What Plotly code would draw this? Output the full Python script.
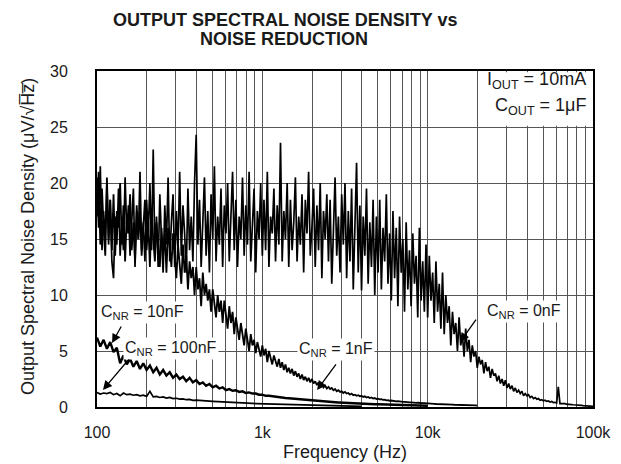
import plotly.graph_objects as go

# Frequency grid: 100 log-spaced mantissas per decade (analyzer sweep points)
MANT = [1.000, 1.023, 1.047, 1.072, 1.096, 1.122, 1.148, 1.175, 1.202, 1.230,
        1.259, 1.288, 1.318, 1.349, 1.380, 1.413, 1.445, 1.479, 1.514, 1.549,
        1.585, 1.622, 1.660, 1.698, 1.738, 1.778, 1.820, 1.862, 1.905, 1.950,
        1.995, 2.042, 2.089, 2.138, 2.188, 2.239, 2.291, 2.344, 2.399, 2.455,
        2.512, 2.570, 2.630, 2.692, 2.754, 2.818, 2.884, 2.951, 3.020, 3.090,
        3.162, 3.236, 3.311, 3.388, 3.467, 3.548, 3.631, 3.715, 3.802, 3.890,
        3.981, 4.074, 4.169, 4.266, 4.365, 4.467, 4.571, 4.677, 4.786, 4.898,
        5.012, 5.129, 5.248, 5.370, 5.495, 5.623, 5.754, 5.888, 6.026, 6.166,
        6.310, 6.457, 6.607, 6.761, 6.918, 7.079, 7.244, 7.413, 7.586, 7.762,
        7.943, 8.128, 8.318, 8.511, 8.710, 8.913, 9.120, 9.333, 9.550, 9.772]
DECADES = [100, 1000, 10000]
FREQ_FINE = [round(m * d, 1) for d in DECADES for m in MANT] + [100000.0]
FREQ_COARSE = FREQ_FINE[::2]

# C_NR = 0nF  (fine grid, 100 Hz .. 100 kHz)
NOISE_0NF = [20.5, 16.0, 21.5, 14.0, 17.5, 15.0, 20.0, 14.5, 18.5, 13.0,
             11.5, 17.0, 14.5, 19.5, 13.5, 16.5, 14.0, 20.5, 15.5, 18.0,
             13.5, 16.0, 19.5, 12.5, 17.5, 15.0, 21.0, 14.0, 16.5, 13.0,
             18.5, 15.5, 20.0, 14.0, 23.0, 13.5, 17.0, 12.5, 19.0, 15.0,
             12.0, 18.0, 14.5, 20.5, 13.0, 16.5, 19.0, 12.5, 17.5, 14.0,
             21.0, 13.5, 18.0, 15.5, 12.0, 19.5, 14.0, 17.0, 13.0, 20.0,
             24.3, 14.5, 18.5, 12.5, 16.0, 20.5, 13.5, 17.5, 12.0, 19.0,
             15.0, 21.5, 13.0, 17.0, 14.5, 19.5, 12.5, 18.0, 15.5, 20.0,
             13.0, 16.5, 21.0, 14.0, 18.5, 12.5, 17.0, 15.0, 20.5, 13.5,
             18.0, 14.5, 21.0, 13.0, 16.5, 19.5, 12.0, 17.5, 15.0, 20.0,
             13.5, 18.5, 14.0, 21.0, 12.5, 17.0, 15.5, 19.5, 13.0, 18.0,
             14.5, 23.6, 13.0, 17.5, 15.0, 20.0, 12.5, 18.5, 14.0, 16.5,
             20.5, 13.0, 17.0, 14.5, 19.0, 12.0, 18.5, 15.5, 21.0, 13.5,
             16.0, 19.5, 12.5, 18.0, 14.0, 20.0, 11.5, 17.5, 15.0, 19.0,
             13.0, 18.5, 11.0, 16.5, 20.5, 13.5, 17.0, 12.0, 19.0, 14.5,
             20.0, 11.5, 17.5, 13.0, 19.5, 10.5, 16.0, 21.8, 12.0, 18.0,
             10.4, 17.0, 13.5, 19.5, 11.0, 16.5, 12.5, 18.5, 10.0, 17.0,
             12.0, 18.5, 10.5, 16.0, 13.0, 19.0, 11.0, 15.5, 9.5, 17.5,
             11.5, 16.0, 9.0, 17.0, 12.0, 15.0, 8.5, 16.5, 10.5, 14.0,
             9.0, 15.5, 11.0, 13.5, 8.0, 16.0, 9.5, 13.0, 8.5, 14.5,
             8.0, 13.5, 9.5, 12.0, 7.5, 13.0, 8.5, 11.0, 7.0, 12.0,
             6.5, 10.0, 7.5, 9.0, 5.5, 8.5, 6.5, 7.5, 5.0, 8.0,
             5.5, 6.5, 4.5, 7.0, 5.0, 6.0, 4.0, 5.5, 4.5, 5.0,
             3.5, 4.5, 3.8, 4.2, 3.0, 4.0, 3.2, 3.6, 2.6, 3.4,
             2.8, 3.0, 2.3, 2.8, 2.1, 2.5, 1.9, 2.4, 1.7, 2.1,
             1.6, 1.9, 1.4, 1.7, 1.3, 1.5, 1.2, 1.4, 1.0, 1.2,
             1.0, 1.1, 0.85, 0.95, 0.75, 0.85, 0.7, 0.75, 0.6, 0.65,
             0.55, 0.6, 0.5, 0.55, 0.45, 0.5, 0.4, 0.42, 0.35, 1.8,
             0.3, 0.32, 0.28, 0.3, 0.25, 0.26, 0.22, 0.22, 0.2, 0.2,
             0.18, 0.17, 0.15, 0.15, 0.13, 0.12, 0.1, 0.1, 0.08, 0.06, 0.05]

# C_NR = 1nF  (fine grid, 100 Hz .. 20 kHz)
NOISE_1NF = [17.0, 21.0, 14.5, 19.5, 16.0, 13.5, 20.5, 15.0, 18.5, 14.0,
             19.0, 13.5, 17.5, 16.0, 20.0, 14.5, 18.0, 13.0, 17.0, 15.5,
             19.0, 14.0, 16.5, 13.0, 18.0, 15.0, 17.5, 13.5, 16.0, 18.5,
             14.0, 16.5, 12.5, 17.5, 15.0, 13.0, 16.5, 14.5, 12.5, 16.0,
             13.5, 15.5, 12.0, 16.0, 14.0, 12.5, 15.5, 13.0, 11.5, 14.5,
             13.0, 11.0, 14.5, 12.0, 13.5, 10.5, 13.0, 11.5, 12.5, 10.0,
             12.5, 10.5, 11.5, 9.0, 12.0, 10.0, 11.0, 9.5, 10.5, 8.5,
             10.5, 9.0, 8.0, 10.0, 8.5, 9.5, 7.5, 9.5, 8.0, 7.0,
             9.0, 7.5, 8.5, 6.5, 8.0, 7.0, 6.0, 7.5, 6.5, 5.5,
             7.0, 6.0, 5.0, 6.5, 5.5, 6.0, 4.8, 5.8, 5.0, 4.5,
             5.5, 4.6, 5.2, 4.0, 5.0, 4.3, 3.8, 4.6, 4.0, 3.6,
             4.3, 3.5, 4.0, 3.3, 3.8, 3.1, 3.5, 3.0, 3.4, 2.8,
             3.2, 2.7, 3.0, 2.5, 2.9, 2.4, 2.7, 2.3, 2.6, 2.2,
             2.5, 2.1, 2.3, 1.95, 2.2, 1.85, 2.05, 1.75, 1.9, 1.65,
             1.8, 1.6, 1.7, 1.5, 1.6, 1.4, 1.5, 1.35, 1.4, 1.25,
             1.35, 1.2, 1.25, 1.1, 1.2, 1.05, 1.1, 1.0, 1.05, 0.95,
             1.0, 0.9, 0.95, 0.85, 0.9, 0.8, 0.85, 0.75, 0.8, 0.72,
             0.75, 0.68, 0.7, 0.64, 0.66, 0.6, 0.62, 0.56, 0.58, 0.53,
             0.55, 0.5, 0.52, 0.48, 0.49, 0.45, 0.46, 0.43, 0.44, 0.41,
             0.42, 0.39, 0.4, 0.37, 0.38, 0.35, 0.36, 0.34, 0.34, 0.32,
             0.32, 0.3, 0.3, 0.29, 0.28, 0.27, 0.27, 0.26, 0.25, 0.25,
             0.24, 0.23, 0.23, 0.22, 0.21, 0.21, 0.2, 0.2, 0.19, 0.19,
             0.18, 0.18, 0.17, 0.17, 0.16, 0.16, 0.15, 0.15, 0.14, 0.14, 0.13]

# C_NR = 10nF  (coarse grid, 100 Hz .. 10 kHz)
NOISE_10NF = [6.2, 5.4, 6.0, 5.2, 5.8, 4.9, 5.3, 3.9, 4.6, 3.8,
              4.3, 3.6, 4.1, 3.4, 3.9, 3.3, 3.7, 3.1, 3.5, 2.9,
              3.3, 2.8, 3.1, 2.6, 2.9, 2.5, 2.7, 2.3, 2.6, 2.2,
              2.4, 2.05, 2.2, 1.9, 2.05, 1.75, 1.9, 1.65, 1.75, 1.5,
              1.6, 1.45, 1.5, 1.35, 1.4, 1.25, 1.3, 1.2, 1.2, 1.1,
              1.1, 1.0, 1.0, 0.95, 0.9, 0.88, 0.85, 0.8, 0.78, 0.75,
              0.72, 0.7, 0.66, 0.63, 0.6, 0.58, 0.55, 0.52, 0.5, 0.48,
              0.46, 0.44, 0.42, 0.4, 0.38, 0.37, 0.35, 0.34, 0.32, 0.31,
              0.3, 0.28, 0.27, 0.26, 0.25, 0.24, 0.23, 0.22, 0.21, 0.2,
              0.19, 0.18, 0.17, 0.16, 0.15, 0.15, 0.14, 0.13, 0.12, 0.12, 0.11]

# C_NR = 100nF  (coarse grid, 100 Hz .. 4 kHz)
NOISE_100NF = [1.3, 1.15, 1.25, 1.2, 1.3, 1.1, 1.2, 1.0, 1.25, 1.1,
               1.15, 1.05, 1.1, 1.0, 1.05, 0.95, 1.4, 0.9, 0.95, 0.85,
               0.9, 0.8, 0.85, 0.75, 0.78, 0.7, 0.72, 0.65, 0.68, 0.6,
               0.62, 0.58, 0.56, 0.53, 0.52, 0.5, 0.48, 0.46, 0.44, 0.42,
               0.4, 0.39, 0.37, 0.36, 0.35, 0.34, 0.33, 0.32, 0.31, 0.3,
               0.29, 0.28, 0.27, 0.26, 0.25, 0.24, 0.23, 0.22, 0.21, 0.2,
               0.19, 0.18, 0.17, 0.16, 0.15, 0.14, 0.13, 0.12, 0.11, 0.1,
               0.1, 0.09, 0.09, 0.08, 0.08, 0.07, 0.07, 0.06, 0.06, 0.05, 0.05]

X_TICKS = [100, 1000, 10000, 100000]
X_TICK_TEXT = ["100", "1k", "10k", "100k"]
Y_TICKS = [0, 5, 10, 15, 20, 25, 30]

FONT = "Liberation Sans, Arial, sans-serif"
INK = "#1a1a1a"

# page body has an 8px default margin: the figure is sized so the plot area
# lands at x 97..593, y 71..407 of the 621x464 window
W, H = 613, 456
ML, MR, MT, MB = 89, 28, 63, 57
PX0, PY0 = 8 + ML, 8 + MT          # plot-area origin in window pixels
PW, PH = W - ML - MR, H - MT - MB


def px(xw):
    return (xw - PX0) / PW


def py(yw):
    return (PY0 + PH - yw) / PH


fig = go.Figure()
series = [(FREQ_COARSE, NOISE_100NF, 1.7), (FREQ_COARSE, NOISE_10NF, 2.4),
          (FREQ_FINE, NOISE_1NF, 1.8), (FREQ_FINE, NOISE_0NF, 1.7)]
for fx, vals, w in series:
    fig.add_trace(go.Scatter(x=fx[:len(vals)], y=vals, mode="lines",
                             line=dict(color="black", width=w), showlegend=False,
                             hoverinfo="skip"))

# vertical grid at every 1..9 x decade
grid_vals = [m * d for d in DECADES for m in range(1, 10)] + [100000]
grid_text = [X_TICK_TEXT[X_TICKS.index(v)] if v in X_TICKS else "" for v in grid_vals]

fig.update_xaxes(type="log", range=[2, 5], tickvals=grid_vals, ticktext=grid_text,
                 showgrid=True, gridcolor="#555555", gridwidth=1, ticks="",
                 showline=True, linecolor="black", linewidth=2, mirror=True,
                 zeroline=False, ticklabelstandoff=10, automargin=False,
                 tickfont=dict(family=FONT, size=16, color=INK))
fig.update_yaxes(range=[0, 30], tickvals=Y_TICKS, showgrid=True, gridcolor="#555555",
                 gridwidth=1, ticks="", showline=True, linecolor="black", linewidth=2,
                 mirror=True, zeroline=False, ticklabelstandoff=24, automargin=False,
                 tickfont=dict(family=FONT, size=16, color=INK))

# white patch behind the condition text
fig.add_shape(type="rect", xref="paper", yref="y", x0=px(481), x1=0.997,
              y0=25.12, y1=29.88, fillcolor="white", line=dict(width=0), layer="above")

cond_font = dict(family=FONT, size=18, color=INK)
fig.add_annotation(xref="paper", yref="paper", x=px(588), y=py(80),
                   xanchor="right", yanchor="middle", showarrow=False, font=cond_font,
                   text="I<sub>OUT</sub> = 10mA")
fig.add_annotation(xref="paper", yref="paper", x=px(588), y=py(107),
                   xanchor="right", yanchor="middle", showarrow=False, font=cond_font,
                   text="C<sub>OUT</sub> = 1\u03bcF")

ann_font = dict(family=FONT, size=16, color=INK)
labels = [("C<sub>NR</sub> = 10nF", 2.278, 8.48),
          ("C<sub>NR</sub> = 100nF", 2.448, 5.18),
          ("C<sub>NR</sub> = 1nF", 3.446, 5.09),
          ("C<sub>NR</sub> = 0nF", 4.583, 8.57)]
for txt, lx, ly in labels:
    fig.add_annotation(x=lx, y=ly, xref="x", yref="y", text=txt, showarrow=False,
                       font=ann_font, bgcolor="white", borderpad=1)

arrows = [(2.091, 5.71, 10, -18), (2.036, 1.52, 27, -32),
          (3.331, 1.52, 20, -27), (4.196, 5.8, 17, -24)]
for ax_, ay_, dx, dy in arrows:
    fig.add_annotation(x=ax_, y=ay_, xref="x", yref="y", text="", showarrow=True,
                       ax=dx, ay=dy, arrowhead=2, arrowsize=1.4, arrowwidth=1.3,
                       arrowcolor="black")

title_font = dict(family=FONT, size=18, color=INK)
fig.add_annotation(xref="paper", yref="paper", x=px(285), y=py(20),
                   xanchor="center", yanchor="middle", showarrow=False,
                   text="<b>OUTPUT SPECTRAL NOISE DENSITY vs</b>", font=title_font)
fig.add_annotation(xref="paper", yref="paper", x=px(284), y=py(39),
                   xanchor="center", yanchor="middle", showarrow=False,
                   text="<b>NOISE REDUCTION</b>", font=title_font)
fig.add_annotation(xref="paper", yref="paper", x=px(28), y=py(237),
                   textangle=-90, xanchor="center", yanchor="middle", showarrow=False,
                   text="Output Spectral Noise Density (\u03bcV/\u221aH\u0305z\u0305)",
                   font=dict(family=FONT, size=18, color=INK))
fig.add_annotation(xref="paper", yref="paper", x=0.5, y=py(452),
                   xanchor="center", yanchor="middle", showarrow=False,
                   text="Frequency (Hz)", font=dict(family=FONT, size=18, color=INK))

fig.update_layout(width=W, height=H, margin=dict(l=ML, r=MR, t=MT, b=MB),
                  paper_bgcolor="white", plot_bgcolor="white")
fig.write_html("out.html")
